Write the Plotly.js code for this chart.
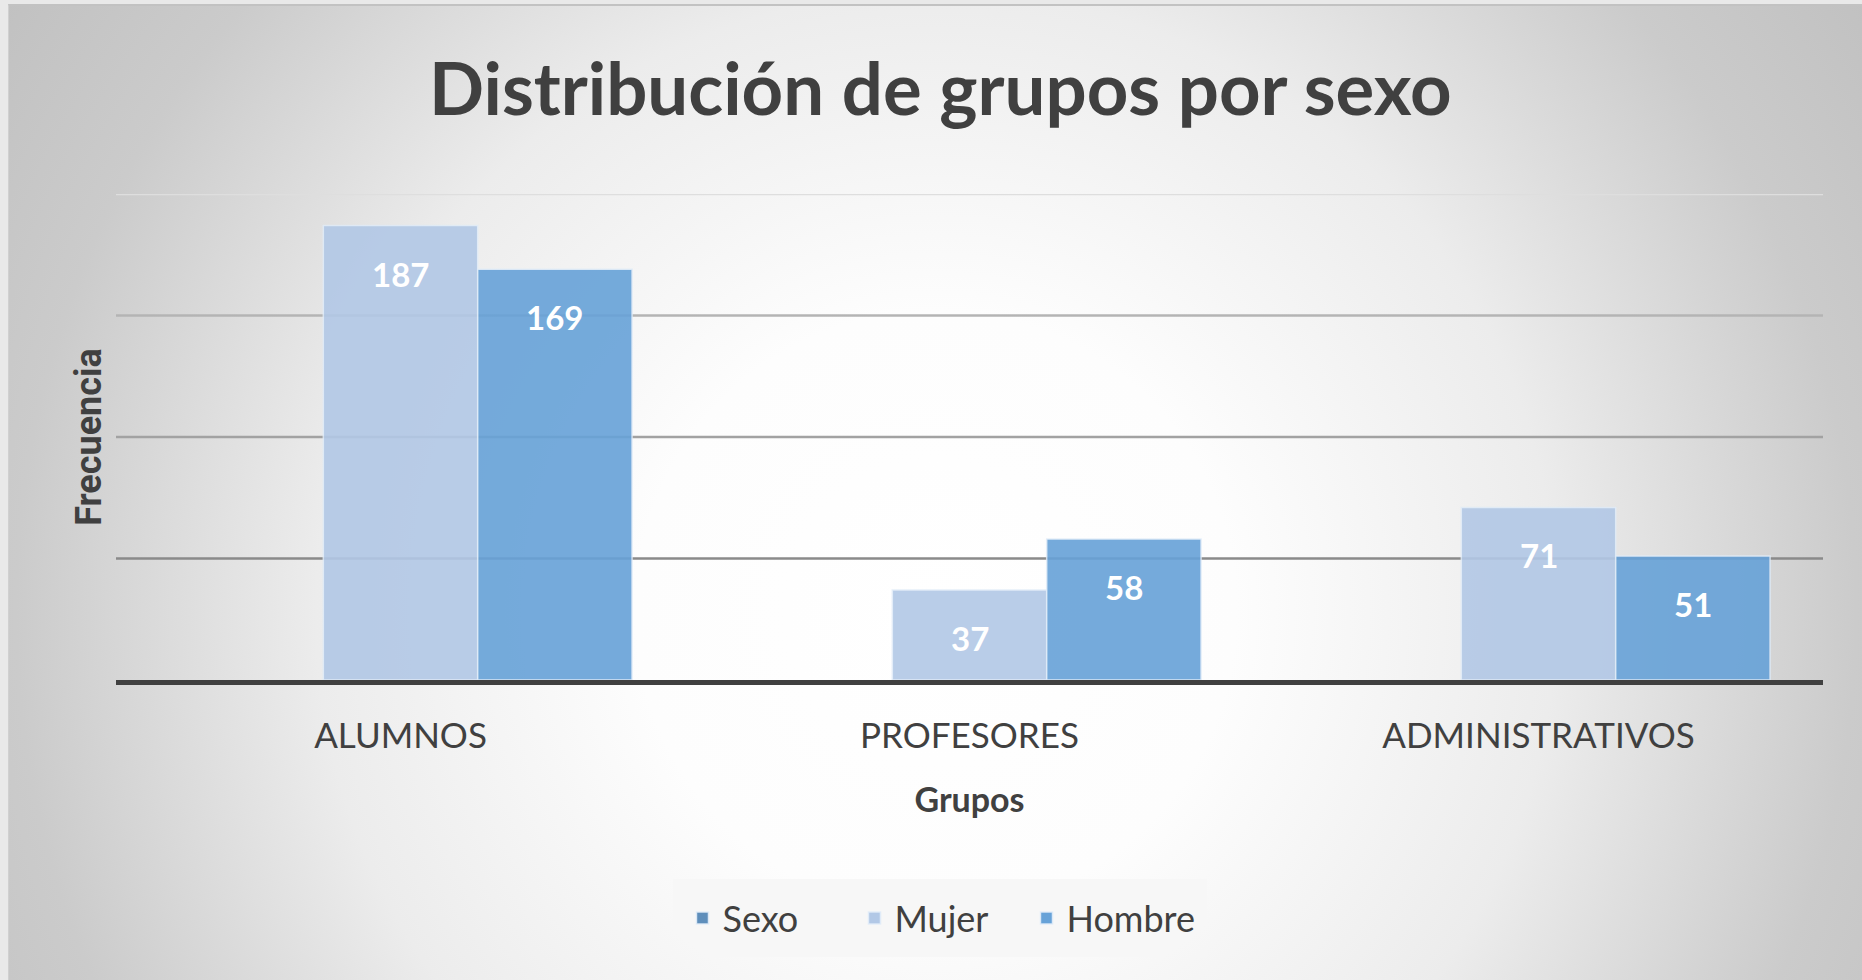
<!DOCTYPE html>
<html>
<head>
<meta charset="utf-8">
<script src="https://cdn.plot.ly/plotly-3.0.1.min.js"></script>
<style>
  html, body { margin: 0; padding: 0; width: 1862px; height: 980px; overflow: hidden; background: #e9e9e9; }
  #card {
    position: absolute; left: 8px; top: 4px; width: 1854px; height: 976px;
    border-top: 2px solid #c2c2c2; border-left: 1px solid #d0d0d0;
    background: radial-gradient(circle at 50% 62%, #ffffff 0px, #fdfdfd 300px, #ececec 620px, #cbcbcb 920px, #bfbfbf 1150px);
  }
  #chart { position: absolute; left: 0; top: 0; width: 1862px; height: 980px; }
</style>
</head>
<body>
<div id="card"></div>
<div id="chart"></div>
<script>
// ---- data ----
const categories = ['ALUMNOS', 'PROFESORES', 'ADMINISTRATIVOS'];
const seriesNames = ['Sexo', 'Mujer', 'Hombre'];
const sexoValues = [null, null, null];
const mujerValues = [187, 37, 71];
const hombreValues = [169, 58, 51];
const gridValues = [50, 100, 150, 200];

// ---- styles ----
const colors = ['#5e8ebb', '#b2c8e6', '#67a2d8'];
const gridColors = ['#8a8a8a', '#a2a2a2', '#b4b4b4', '#dedede'];
const BARGAP = 0.186;

function barTrace(name, values, color) {
  return {
    type: 'bar', name: name, x: categories, y: values,
    marker: { color: color, opacity: 0.9, line: { color: 'rgba(225,236,248,0.9)', width: 1.5 } },
    hoverinfo: 'x+y+name', textposition: 'none'
  };
}

const allSeries = [sexoValues, mujerValues, hombreValues];
const traces = allSeries.map((v, k) => barTrace(seriesNames[k], v, colors[k]));

// data labels placed via library data coordinates
const nSlots = allSeries.length;
const slotW = (1 - BARGAP) / nSlots;
const annotations = [];
allSeries.forEach((vals, k) => {
  vals.forEach((v, i) => {
    if (v === null) return;
    annotations.push({
      xref: 'x', yref: 'y', x: i + (k - (nSlots - 1) / 2) * slotW, y: v,
      text: String(v), showarrow: false, yanchor: 'middle', yshift: -48,
      font: { family: 'Lato, sans-serif', size: 33, color: '#ffffff', weight: 'bold' }
    });
  });
});

const shapes = gridValues.map((g, j) => ({
  type: 'line', xref: 'paper', x0: 0, x1: 1, yref: 'y', y0: g, y1: g,
  line: { color: gridColors[j], width: 2.5 }, layer: 'below'
}));

const layout = {
  width: 1862, height: 980,
  paper_bgcolor: 'rgba(0,0,0,0)', plot_bgcolor: 'rgba(0,0,0,0)',
  margin: { l: 116, r: 39, t: 194, b: 300 },
  barmode: 'group', bargap: BARGAP, bargroupgap: 0,
  title: {
    text: '<b>Distribución de grupos por sexo</b>',
    font: { family: 'Lato, sans-serif', size: 72.5, color: '#404040' },
    x: 0.505, xref: 'container', xanchor: 'center',
    y: 1 - 90 / 980, yref: 'container', yanchor: 'middle'
  },
  xaxis: {
    type: 'category',
    showline: true, linecolor: '#404040', linewidth: 5,
    showgrid: false, zeroline: false, ticks: '',
    tickfont: { family: 'Lato, sans-serif', size: 35, color: '#404040' },
    ticklabelstandoff: 21,
    title: { text: '<b>Grupos</b>', font: { family: 'Lato, sans-serif', size: 34, color: '#404040' }, standoff: 36 }
  },
  yaxis: {
    range: [0, 200], showgrid: false, zeroline: false, showticklabels: false, ticks: '',
    fixedrange: true,
    title: { text: '<b>Frecuencia</b>', font: { family: 'Roboto, sans-serif', size: 36, color: '#404040' }, standoff: 2 }
  },
  legend: {
    orientation: 'h', x: 0.483, xanchor: 'center', y: -0.49, yanchor: 'middle',
    bgcolor: 'rgba(246,246,246,0.9)', bordercolor: 'rgba(246,246,246,0.9)', borderwidth: 9,
    font: { family: 'Lato, sans-serif', size: 36, color: '#404040' },
    itemwidth: 30, entrywidth: 127, entrywidthmode: 'pixels', traceorder: 'normal'
  },
  annotations: annotations,
  shapes: shapes,
  showlegend: true
};

Plotly.newPlot('chart', traces, layout, { displayModeBar: false, staticPlot: true });
</script>
</body>
</html>
